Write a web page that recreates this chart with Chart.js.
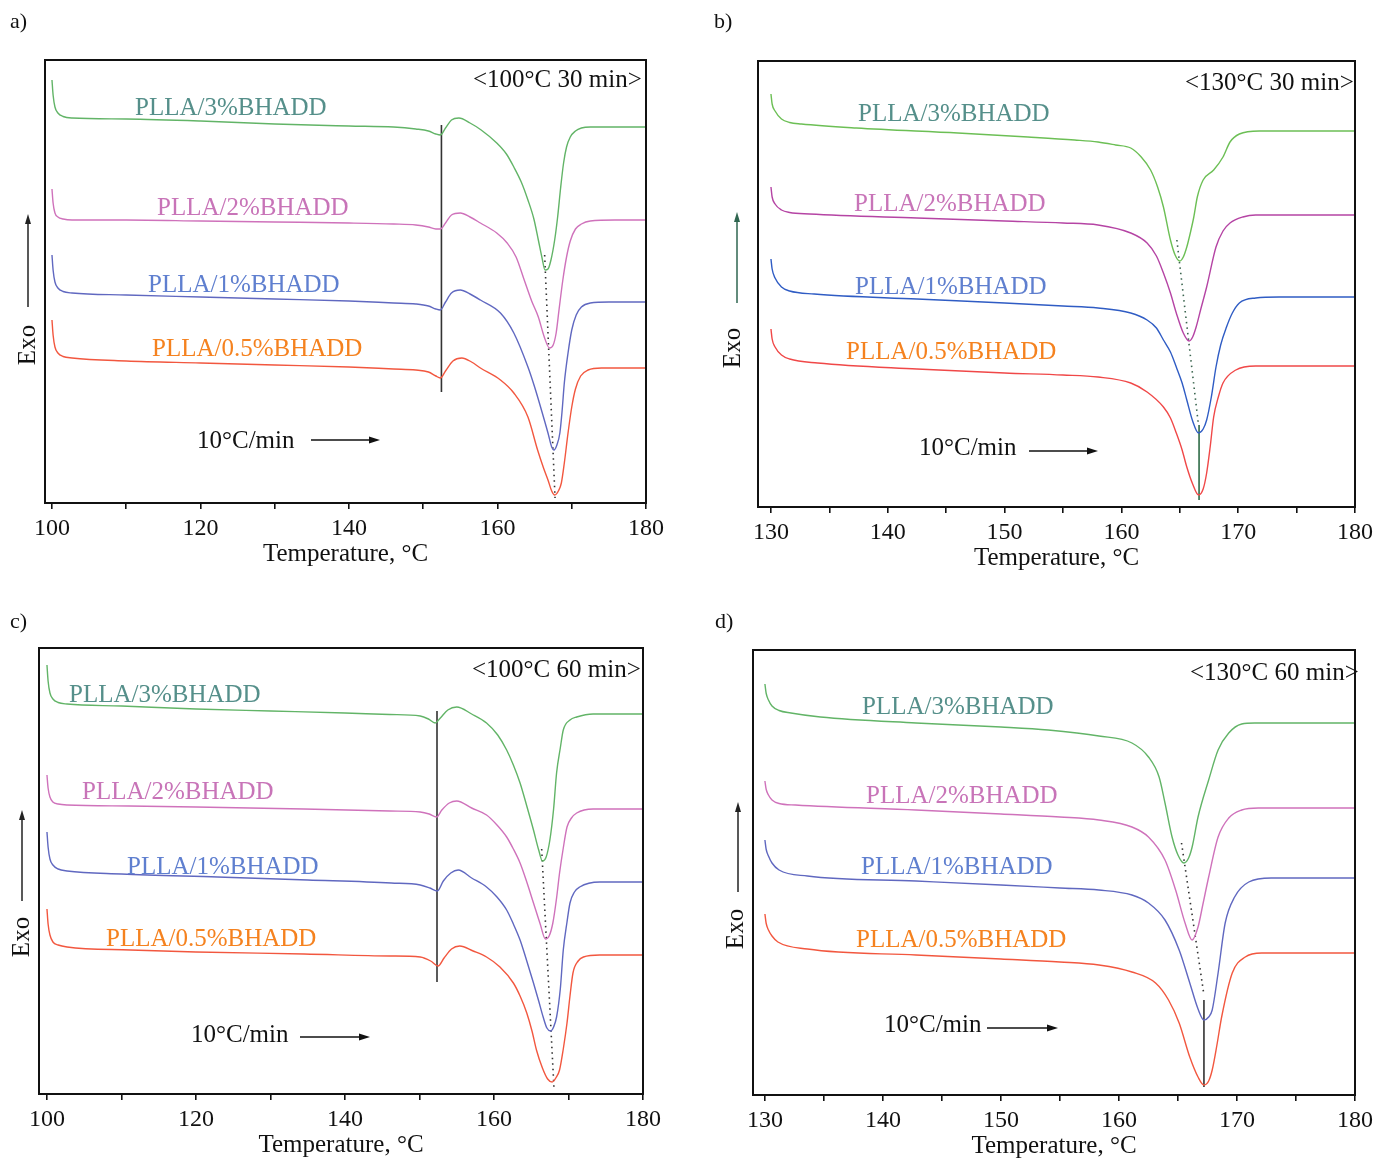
<!DOCTYPE html>
<html>
<head>
<meta charset="utf-8">
<script src="https://cdn.jsdelivr.net/npm/chart.js@4.4.0/dist/chart.umd.min.js"></script>
<style>
  html, body { margin: 0; padding: 0; background: #fff; }
  body { width: 1378px; height: 1162px; position: relative; overflow: hidden; }
  canvas { position: absolute; }
</style>
</head>
<body>
<canvas id="ca" width="689" height="581" style="left:0px;top:0px"></canvas>
<canvas id="cb" width="689" height="581" style="left:689px;top:0px"></canvas>
<canvas id="cc" width="689" height="581" style="left:0px;top:581px"></canvas>
<canvas id="cd" width="689" height="581" style="left:689px;top:581px"></canvas>
<script>
// ---------------- DATA ----------------
// Series names
const seriesNames = ['PLLA/3%BHADD', 'PLLA/2%BHADD', 'PLLA/1%BHADD', 'PLLA/0.5%BHADD'];

// x-axis ticks (temperature, °C) and their labels
const ticks100 = [100, 110, 120, 130, 140, 150, 160, 170, 180];
const tickLabels100 = ['100', '', '120', '', '140', '', '160', '', '180'];
const ticks130 = [130, 135, 140, 145, 150, 155, 160, 165, 170, 175, 180];
const tickLabels130 = ['130', '', '140', '', '150', '', '160', '', '170', '', '180'];

// Panel a) <100°C 30 min>  : [temperature, heat flow (a.u., offset)]
const a3 = [[100,42.3],[100.15,40.8],[100.4,39.6],[100.8,39.0],[101.5,38.65],[102.7,38.5],[110,38.4],[120,38.2],[130,37.9],[140,37.7],[146,37.6],[149,37.4],[150.7,37.2],[151.7,36.9],[152.3,36.8],[153.0,37.5],[153.8,38.3],[154.8,38.5],[156.3,38.0],[157.8,37.3],[159.9,36.0],[161.2,34.9],[162.2,33.6],[163.2,32.1],[164.1,30.3],[164.9,28.4],[165.5,26.3],[166.0,24.5],[166.4,23.3],[166.8,23.4],[167.2,24.3],[167.7,26.3],[168.1,28.6],[168.5,31.5],[168.9,34.0],[169.3,35.6],[169.8,36.6],[170.5,37.2],[171.3,37.5],[172.5,37.6],[180,37.6]];
const a2 = [[100,31.4],[100.15,30.0],[100.4,29.0],[100.8,28.6],[101.5,28.4],[102.7,28.3],[110,28.3],[120,28.2],[130,28.1],[140,28.0],[146,27.9],[149,27.8],[150.7,27.6],[151.7,27.4],[152.3,27.4],[153.0,28.0],[153.8,28.8],[155.0,29.0],[156.3,28.6],[157.7,28.0],[159.9,27.0],[161.3,26.0],[162.5,24.6],[163.6,22.3],[164.6,20.2],[165.5,18.6],[166.3,16.6],[167.0,15.5],[167.5,15.8],[167.9,17.0],[168.3,19.4],[168.8,22.3],[169.3,24.6],[169.8,26.2],[170.5,27.4],[171.3,27.9],[172.5,28.2],[175.8,28.3],[180,28.3]];
const a1 = [[100,24.8],[100.15,23.3],[100.4,22.1],[100.8,21.5],[101.5,21.15],[102.7,21.0],[110,20.8],[120,20.6],[130,20.4],[140,20.2],[146,20.0],[149,19.9],[150.7,19.7],[151.7,19.4],[152.3,19.3],[153.0,20.1],[153.8,21.0],[155.0,21.3],[156.3,20.9],[157.7,20.3],[160.4,19.0],[162.2,17.0],[164.1,13.6],[165.0,11.6],[165.8,9.6],[166.8,7.0],[167.3,5.6],[167.6,5.3],[168.0,5.8],[168.4,7.0],[168.7,9.2],[169.0,12.0],[169.5,15.0],[170.0,17.3],[170.6,18.8],[171.3,19.6],[172.5,20.0],[175,20.1],[180,20.1]];
const a05 = [[100,18.3],[100.15,16.8],[100.4,15.6],[100.8,15.0],[101.5,14.65],[102.7,14.5],[110,14.2],[120,14.0],[130,13.8],[140,13.6],[146,13.4],[149,13.3],[150.7,13.1],[151.7,12.7],[152.3,12.5],[153.0,13.2],[154.0,14.2],[155.2,14.5],[156.5,14.1],[157.7,13.5],[160.4,12.3],[162.2,11.0],[164.1,8.6],[165.4,5.3],[166.2,3.5],[166.8,2.3],[167.3,1.2],[167.7,0.8],[168.2,1.2],[168.6,2.0],[169.0,4.0],[169.5,7.0],[170.0,9.6],[170.5,11.4],[171.2,12.7],[172.2,13.3],[174,13.5],[180,13.5]];
const aGuide = [[152.45,37.8],[152.45,11.1]];
const aPeaks = [[166.35,24.8],[167.75,0.5]];

// Panel b) <130°C 30 min>
const b3 = [[130,41.3],[130.1,40.3],[130.35,39.6],[130.9,38.8],[131.6,38.45],[132.6,38.3],[137.3,37.9],[146,37.4],[152,37.0],[156,36.7],[158,36.5],[159.5,36.2],[160.8,35.9],[161.7,35.0],[162.5,33.7],[163.1,32.0],[163.6,30.0],[164.2,26.7],[164.6,25.2],[165.0,24.6],[165.3,25.0],[165.6,26.0],[165.9,27.4],[166.2,29.0],[166.5,31.0],[167.0,32.7],[167.9,33.7],[168.7,35.0],[169.3,36.5],[170.1,37.3],[171.8,37.6],[180,37.6]];
const b2 = [[130,32.0],[130.1,31.0],[130.35,30.3],[130.9,29.7],[131.6,29.45],[133.3,29.3],[142.5,28.9],[150,28.6],[155,28.4],[158,28.2],[160.8,27.4],[162.2,26.4],[163.0,25.1],[163.6,23.4],[164.2,21.4],[164.7,19.4],[165.3,17.4],[165.8,16.6],[166.1,17.0],[166.4,18.0],[166.8,19.8],[167.3,22.0],[168.1,26.0],[168.7,27.6],[169.3,28.4],[170.4,29.0],[171.5,29.2],[180,29.2]];
const b1 = [[130,24.8],[130.1,23.8],[130.35,22.9],[130.9,22.0],[131.6,21.6],[133.7,21.3],[142.5,20.8],[150,20.4],[155,20.1],[158,19.9],[160.8,19.4],[162.2,18.7],[163.0,17.9],[163.6,16.7],[164.2,15.5],[164.7,14.0],[165.2,12.4],[165.6,10.7],[166.1,8.6],[166.6,7.4],[167.0,7.8],[167.3,8.7],[167.7,11.0],[168.1,14.0],[168.5,16.2],[169.0,18.0],[169.5,19.4],[170.1,20.4],[171.5,20.9],[173.5,21.0],[180,21.0]];
const b05 = [[130,17.8],[130.1,16.8],[130.35,16.0],[130.9,15.2],[131.6,14.8],[134,14.4],[142.5,13.8],[150,13.4],[155,13.2],[158,13.0],[160.8,12.4],[162.2,11.5],[163.6,10.0],[164.2,8.9],[164.7,7.4],[165.2,5.7],[165.6,4.0],[166.1,2.3],[166.6,1.2],[167.0,1.8],[167.3,3.4],[167.6,6.0],[167.9,9.0],[168.3,11.0],[168.7,12.4],[169.8,13.7],[171.5,14.1],[180,14.1]];
const bGuide = [[166.65,8.2],[166.65,0.7]];
const bPeaks = [[164.75,26.7],[166.6,8.2]];

// Panel c) <100°C 60 min>
const c3 = [[100,42.9],[100.15,41.3],[100.4,40.1],[100.8,39.5],[101.5,39.15],[102.7,39.0],[110,38.8],[120,38.5],[130,38.3],[140,38.1],[146,37.95],[150.1,37.8],[151.2,37.5],[152.1,37.1],[152.8,37.6],[153.8,38.4],[155.0,38.7],[157.0,38.0],[159.0,37.1],[160.5,35.9],[161.7,34.4],[162.6,32.9],[163.5,31.1],[164.4,28.8],[165.3,26.4],[166.0,24.4],[166.5,23.3],[167.0,23.7],[167.5,25.4],[168.0,28.5],[168.4,32.1],[168.9,34.6],[169.3,36.4],[170.2,37.4],[171.1,37.7],[173.3,38.0],[180,38.0]];
const c2 = [[100,31.9],[100.15,30.6],[100.4,29.7],[100.8,29.2],[101.5,29.0],[102.7,28.9],[111,28.8],[120,28.7],[134.5,28.5],[146,28.3],[150.1,28.2],[151.3,28.0],[152.3,27.7],[153.0,28.4],[154.0,29.1],[155.0,29.3],[157.0,28.6],[159.0,27.9],[160.4,26.9],[161.7,25.7],[162.6,24.5],[163.5,23.1],[164.4,21.2],[165.3,19.1],[166.2,17.0],[166.9,15.5],[167.4,15.8],[167.9,17.1],[168.4,19.6],[168.8,22.1],[169.3,24.6],[169.8,26.7],[170.4,27.6],[171.1,28.1],[173.3,28.5],[180,28.5]];
const c1 = [[100,26.2],[100.15,24.7],[100.4,23.5],[100.8,22.9],[101.5,22.5],[102.7,22.3],[110,22.0],[122.9,21.7],[135,21.4],[146.2,21.1],[150.1,20.9],[151.4,20.6],[152.4,20.3],[153.2,21.3],[154.2,22.1],[155.2,22.4],[157.0,21.6],[159.0,20.7],[160.4,19.7],[161.7,18.4],[162.6,17.0],[163.5,15.4],[164.4,13.3],[165.3,11.1],[166.0,9.3],[166.6,7.7],[167.1,6.6],[167.6,6.3],[168.0,6.7],[168.4,7.7],[168.9,10.5],[169.3,14.4],[169.8,17.2],[170.2,19.1],[170.8,20.2],[171.5,20.7],[174.2,21.2],[180,21.2]];
const c05 = [[100,18.5],[100.15,17.0],[100.4,15.9],[100.8,15.2],[101.5,14.9],[102.7,14.7],[111.2,14.4],[120,14.2],[134.5,14.0],[146,13.8],[150.1,13.7],[151.5,13.3],[152.5,12.8],[153.3,13.6],[154.3,14.5],[155.4,14.8],[157.2,14.3],[159.0,13.7],[160.8,12.7],[162.6,11.1],[163.5,9.8],[164.4,8.1],[165.1,6.3],[165.7,4.4],[166.5,2.6],[167.2,1.5],[167.8,1.2],[168.3,1.6],[168.8,2.4],[169.3,4.5],[169.8,7.1],[170.2,9.8],[170.6,12.1],[171.3,13.3],[172.0,13.7],[174.2,13.9],[180,13.9]];
const cGuide = [[152.35,38.3],[152.35,11.2]];
const cPeaks = [[166.4,24.5],[168.05,0.6]];

// Panel d) <130°C 60 min>
const d3 = [[130,41.1],[130.1,40.2],[130.3,39.5],[130.6,38.9],[131.2,38.45],[132.2,38.2],[134.7,37.8],[142.8,37.2],[150,36.8],[154,36.5],[158.3,35.9],[161.1,35.2],[162.5,33.8],[163.4,31.8],[163.9,29.2],[164.5,25.8],[165.0,24.0],[165.5,23.2],[165.9,23.7],[166.2,24.8],[166.7,27.8],[167.6,31.5],[168.4,34.5],[169.3,36.2],[170.4,37.1],[171.5,37.2],[180,37.2]];
const d2 = [[130,31.4],[130.1,30.6],[130.3,30.0],[130.6,29.5],[131.2,29.15],[132.6,29.0],[142.8,28.5],[150,28.1],[155,27.8],[158.3,27.5],[161.1,26.8],[162.5,25.8],[163.9,23.5],[164.8,20.5],[165.6,17.2],[166.2,15.5],[166.7,16.8],[167.1,19.0],[167.6,21.8],[168.4,25.8],[169.3,27.7],[170.4,28.5],[171.8,28.7],[180,28.7]];
const d1 = [[130,25.5],[130.1,24.6],[130.3,23.9],[130.6,23.2],[131.2,22.5],[133.6,21.9],[142.8,21.4],[150,21.0],[155,20.7],[158.3,20.5],[161.1,20.0],[162.5,19.2],[163.9,17.5],[165.1,14.5],[166.0,11.2],[166.7,8.6],[167.2,7.5],[167.6,7.8],[167.9,8.5],[168.4,12.2],[169.0,17.2],[169.8,19.8],[171.0,21.3],[172.9,21.7],[180,21.7]];
const d05 = [[130,18.1],[130.1,17.2],[130.3,16.5],[130.6,15.9],[131.1,15.3],[133.6,14.6],[142.8,14.0],[150,13.6],[155,13.3],[158.3,13.0],[161.1,12.3],[163.1,11.2],[164.2,9.5],[165.1,7.2],[166.0,3.8],[166.7,1.8],[167.2,1.0],[167.6,1.4],[167.9,2.5],[168.3,5.0],[168.7,7.8],[169.6,12.2],[170.7,13.8],[172.1,14.2],[180,14.2]];
const dGuide = [[167.2,9.5],[167.2,0.8]];
const dPeaks = [[165.3,25.2],[167.2,10.0]];

// ---------------- STYLE / LAYOUT ----------------
const SERIF = '"Liberation Serif", "Times New Roman", serif';
const labelColors = ['#558f8a', '#c874b8', '#5f7fcf', '#f5821f'];

const panels = [
  {
    id: 'ca', off: [0, 0], pad: { left: 45, top: 60, right: 43, bottom: 12 },
    xmin: 99.06, xmax: 180, ymax: 44.3, ticks: ticks100, tickLabels: tickLabels100,
    series: [a3, a2, a1, a05], lineColors: ['#62b467', '#cf72bb', '#6068c0', '#f2573f'],
    guide: aGuide, guideColor: '#333', peaks: aPeaks, peakColor: '#333',
    letter: ['a)', 10, 22], cond: ['<100°C 30 min>', 473, 80],
    labels: [[135, 108], [157, 208], [148, 285], [152, 349]],
    rate: [197, 441, 311, 380, 440], exo: [28, 345, 307, 214], exoX: 28, exoColor: '#222'
  },
  {
    id: 'cb', off: [689, 0], pad: { left: 69, top: 61, right: 19, bottom: 8 },
    xmin: 128.89, xmax: 180, ymax: 44.6, ticks: ticks130, tickLabels: tickLabels130,
    series: [b3, b2, b1, b05], lineColors: ['#6cbf55', '#b544a4', '#2f5cc4', '#f04848'],
    guide: bGuide, guideColor: '#2e6b47', peaks: bPeaks, peakColor: '#3c6650',
    letter: ['b)', 714, 22], cond: ['<130°C 30 min>', 1185, 83],
    labels: [[858, 114], [854, 204], [855, 287], [846, 352]],
    rate: [919, 448, 1029, 1098, 451], exo: [733, 348, 303, 212], exoX: 737, exoColor: '#2f6650'
  },
  {
    id: 'cc', off: [0, 581], pad: { left: 39, top: 67, right: 46, bottom: 2 },
    xmin: 98.93, xmax: 180, ymax: 44.6, ticks: ticks100, tickLabels: tickLabels100,
    series: [c3, c2, c1, c05], lineColors: ['#62b467', '#cf72bb', '#6068c0', '#f2573f'],
    guide: cGuide, guideColor: '#333', peaks: cPeaks, peakColor: '#333',
    letter: ['c)', 10, 622], cond: ['<100°C 60 min>', 472, 670],
    labels: [[69, 695], [82, 792], [127, 867], [106, 939]],
    rate: [191, 1035, 300, 370, 1037], exo: [22, 937, 901, 810], exoX: 22, exoColor: '#222'
  },
  {
    id: 'cd', off: [689, 581], pad: { left: 64, top: 69, right: 21, bottom: 1 },
    xmin: 128.99, xmax: 180, ymax: 44.5, ticks: ticks130, tickLabels: tickLabels130,
    series: [d3, d2, d1, d05], lineColors: ['#62b467', '#cf72bb', '#6068c0', '#f2573f'],
    guide: dGuide, guideColor: '#333', peaks: dPeaks, peakColor: '#333',
    letter: ['d)', 715, 622], cond: ['<130°C 60 min>', 1190, 673],
    labels: [[862, 707], [866, 796], [861, 867], [856, 940]],
    rate: [884, 1025, 987, 1058, 1028], exo: [736, 929, 892, 802], exoX: 738, exoColor: '#222'
  }
];

function toXY(arr) { return arr.map(p => ({ x: p[0], y: p[1] })); }

function annotationPlugin(p) {
  return {
    id: 'annot_' + p.id,
    afterDraw(chart) {
      const ctx = chart.ctx;
      const ca = chart.chartArea;
      const ox = p.off[0], oy = p.off[1];
      ctx.save();
      // frame
      ctx.strokeStyle = '#111';
      ctx.lineWidth = 2;
      ctx.strokeRect(ca.left, ca.top, ca.right - ca.left, ca.bottom - ca.top);

      ctx.textBaseline = 'middle';
      ctx.textAlign = 'left';
      // panel letter
      ctx.fillStyle = '#111';
      ctx.font = '22px ' + SERIF;
      ctx.fillText(p.letter[0], p.letter[1] - ox, p.letter[2] - oy);
      // condition
      ctx.font = '25px ' + SERIF;
      ctx.fillText(p.cond[0], p.cond[1] - ox, p.cond[2] - oy);
      // series labels
      p.labels.forEach((l, i) => {
        ctx.fillStyle = labelColors[i];
        ctx.fillText(seriesNames[i], l[0] - ox, l[1] - oy);
      });
      // heating rate
      ctx.fillStyle = '#111';
      ctx.fillText('10°C/min', p.rate[0] - ox, p.rate[1] - oy);
      ctx.strokeStyle = '#111';
      ctx.lineWidth = 1.5;
      const ay = p.rate[4] - oy, ax1 = p.rate[2] - ox, ax2 = p.rate[3] - ox;
      ctx.beginPath(); ctx.moveTo(ax1, ay); ctx.lineTo(ax2 - 6, ay); ctx.stroke();
      ctx.beginPath(); ctx.moveTo(ax2, ay); ctx.lineTo(ax2 - 11, ay - 3.5); ctx.lineTo(ax2 - 11, ay + 3.5); ctx.closePath(); ctx.fill();
      // Exo
      ctx.save();
      ctx.translate(p.exo[0] - ox, p.exo[1] - oy);
      ctx.rotate(-Math.PI / 2);
      ctx.textAlign = 'center';
      ctx.fillStyle = '#111';
      ctx.fillText('Exo', 0, 0);
      ctx.restore();
      ctx.strokeStyle = p.exoColor;
      ctx.fillStyle = p.exoColor;
      const ex = p.exoX - ox;
      const ey1 = p.exo[2] - oy, ey2 = p.exo[3] - oy;
      ctx.beginPath(); ctx.moveTo(ex, ey1); ctx.lineTo(ex, ey2 + 6); ctx.stroke();
      ctx.beginPath(); ctx.moveTo(ex, ey2); ctx.lineTo(ex - 3, ey2 + 10); ctx.lineTo(ex + 3, ey2 + 10); ctx.closePath(); ctx.fill();
      ctx.restore();
    }
  };
}

panels.forEach(p => {
  const datasets = p.series.map((s, i) => ({
    label: seriesNames[i],
    data: toXY(s),
    borderColor: p.lineColors[i],
    borderWidth: 1.4,
    pointRadius: 0,
    fill: false,
    cubicInterpolationMode: 'monotone'
  }));
  datasets.push({
    label: 'guide', data: toXY(p.guide), borderColor: p.guideColor,
    borderWidth: 1.6, pointRadius: 0, fill: false
  });
  datasets.push({
    label: 'peaks', data: toXY(p.peaks), borderColor: p.peakColor,
    borderWidth: 1.6, borderDash: [1.5, 4], pointRadius: 0, fill: false
  });

  new Chart(document.getElementById(p.id), {
    type: 'line',
    data: { datasets },
    options: {
      responsive: false,
      animation: false,
      events: [],
      layout: { padding: p.pad },
      plugins: { legend: { display: false }, tooltip: { enabled: false } },
      scales: {
        x: {
          type: 'linear',
          min: p.xmin, max: p.xmax,
          afterBuildTicks: (scale) => { scale.ticks = p.ticks.map(v => ({ value: v })); },
          afterFit: (scale) => { scale.height = 66; },
          ticks: {
            autoSkip: false, maxRotation: 0, minRotation: 0, padding: 5,
            color: '#111', font: { family: SERIF, size: 24 },
            callback: (value) => { const k = p.ticks.indexOf(value); return k >= 0 ? p.tickLabels[k] : ''; }
          },
          grid: { drawOnChartArea: false, drawTicks: true, tickLength: 6, color: '#111', lineWidth: 1.6 },
          border: { display: false },
          title: {
            display: true, text: 'Temperature, °C', color: '#111',
            font: { family: SERIF, size: 25 }, padding: { top: 0, bottom: 0 }
          }
        },
        y: { display: false, min: 0, max: p.ymax }
      }
    },
    plugins: [annotationPlugin(p)]
  });
});
</script>
</body>
</html>
